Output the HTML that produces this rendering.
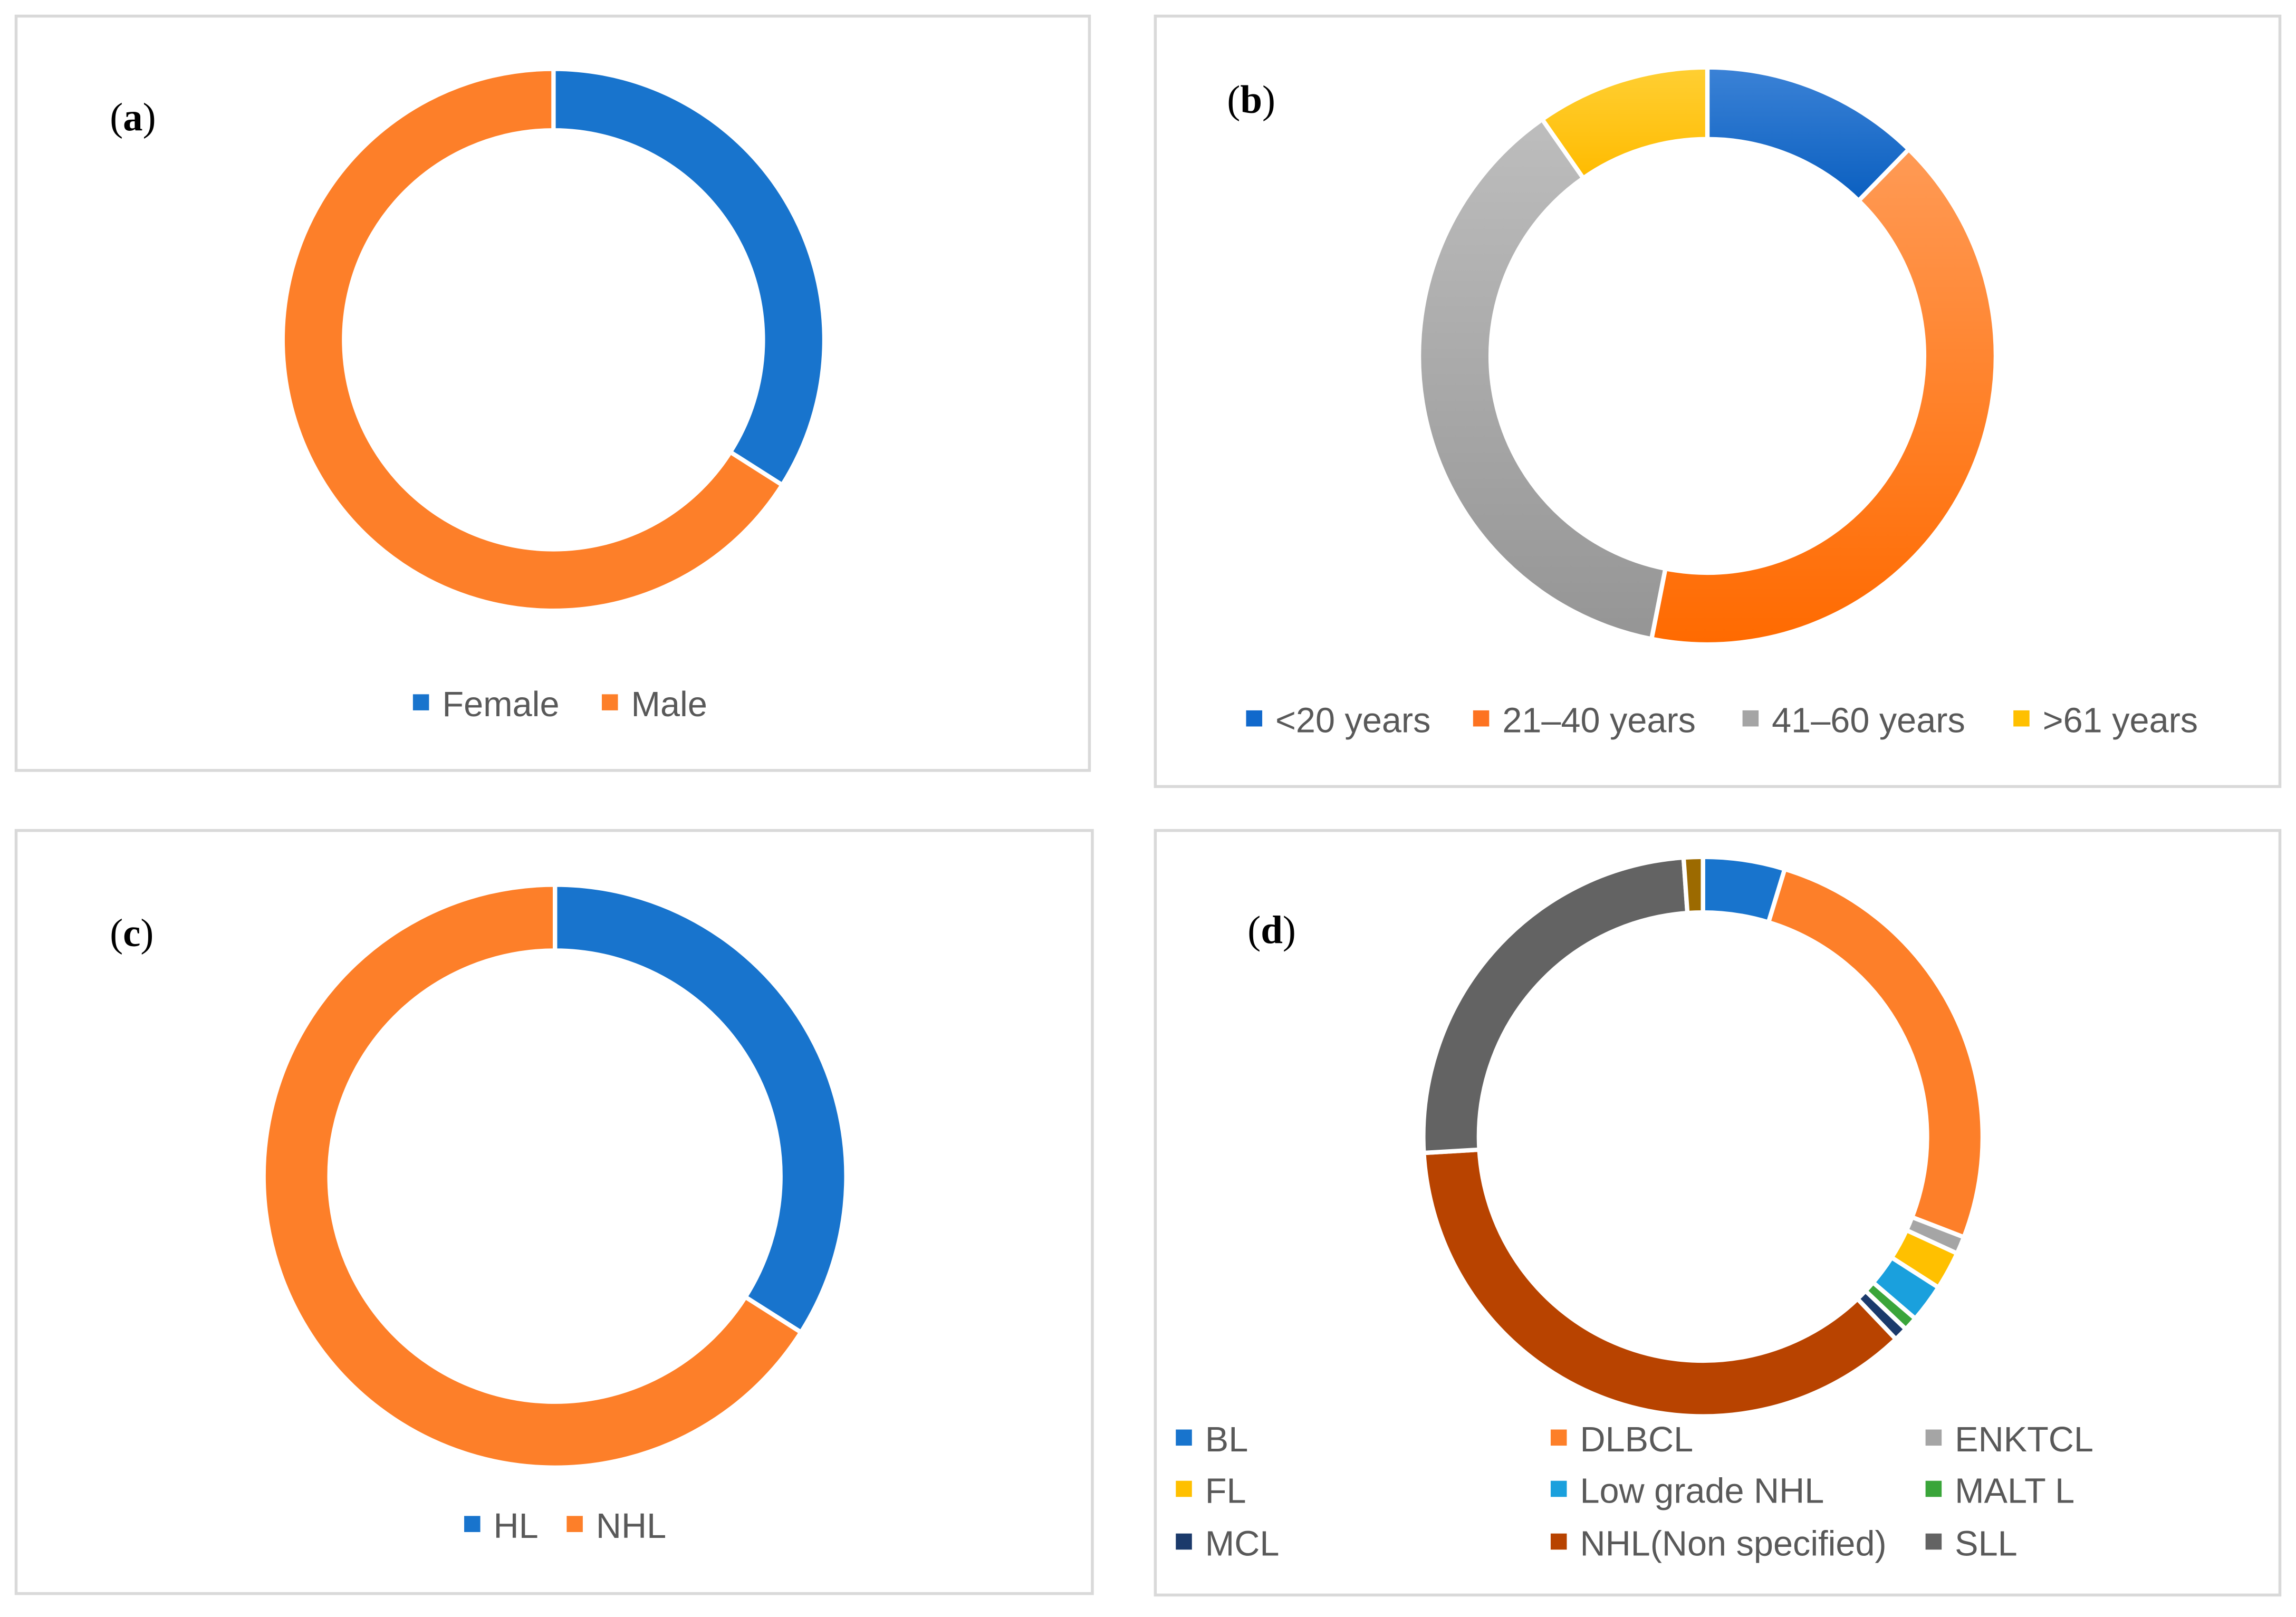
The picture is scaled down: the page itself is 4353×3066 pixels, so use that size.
<!DOCTYPE html>
<html><head><meta charset="utf-8"><style>
html,body{margin:0;padding:0;background:#fff;}
svg{display:block;}
text{font-family:"Liberation Sans",sans-serif;}
.lab{font-family:"Liberation Serif",serif;font-size:27px;fill:#000;}
.leg{font-size:24px;fill:#595959;}
</style></head><body>
<svg id="chart" width="4353" height="3066" viewBox="0 0 1568 1104" preserveAspectRatio="none" xmlns="http://www.w3.org/2000/svg">
<defs>
<linearGradient id="gB" x1="0" y1="0" x2="0" y2="1"><stop offset="0" stop-color="#3b82d6"/><stop offset="1" stop-color="#0a5fc0"/></linearGradient>
<linearGradient id="gO" x1="0" y1="0" x2="0" y2="1"><stop offset="0" stop-color="#ff9a55"/><stop offset="1" stop-color="#ff6a00"/></linearGradient>
<linearGradient id="gG" x1="0" y1="0" x2="0" y2="1"><stop offset="0" stop-color="#bdbdbd"/><stop offset="1" stop-color="#959595"/></linearGradient>
<linearGradient id="gY" x1="0" y1="0" x2="0" y2="1"><stop offset="0" stop-color="#ffcf33"/><stop offset="1" stop-color="#ffbb00"/></linearGradient>
</defs>
<rect x="11" y="11" width="733" height="515" fill="#fff" stroke="#d9d9d9" stroke-width="2"/>
<rect x="789" y="11" width="768" height="526" fill="#fff" stroke="#d9d9d9" stroke-width="2"/>
<rect x="11" y="567" width="735" height="521" fill="#fff" stroke="#d9d9d9" stroke-width="2"/>
<rect x="789" y="567" width="768" height="522" fill="#fff" stroke="#d9d9d9" stroke-width="2"/>
<text class="lab" x="75" y="89">(<tspan font-weight="bold">a</tspan>)</text>
<text class="lab" x="838" y="77">(<tspan font-weight="bold">b</tspan>)</text>
<text class="lab" x="75" y="646">(<tspan font-weight="bold">c</tspan>)</text>
<text class="lab" x="852" y="644">(<tspan font-weight="bold">d</tspan>)</text>
<g id="donuts"></g>
<g id="legends"></g>
</svg>
<script>
const catsA=["Female","Male"];
const valsA=[34,66];
const catsB=["<20 years","21–40 years","41–60 years",">61 years"];
const valsB=[12.3,40.8,37.2,9.7];
const catsC=["HL","NHL"];
const valsC=[34,66];
const catsD=["BL","DLBCL","ENKTCL","FL","Low grade NHL","MALT L","MCL","NHL(Non specified)","SLL","Other"];
const valsD=[4.7,26,1,2.2,2.2,0.8,0.8,36,24.7,1.1];

const NS="http://www.w3.org/2000/svg";
const dg=document.getElementById('donuts');
const lg=document.getElementById('legends');
function pt(cx,cy,r,a){const t=a*Math.PI/180;return [cx+r*Math.sin(t),cy-r*Math.cos(t)];}
function donut(name,vals,cats,colors,cx,cy,ro,ri){
  const tot=vals.reduce((s,v)=>s+v,0);let acc=0;
  vals.forEach((v,i)=>{
    const a0=acc/tot*360,a1=(acc+v)/tot*360;acc+=v;
    const large=(a1-a0)>180?1:0;
    const p0=pt(cx,cy,ro,a0),p1=pt(cx,cy,ro,a1),q1=pt(cx,cy,ri,a1),q0=pt(cx,cy,ri,a0);
    const p=document.createElementNS(NS,'path');
    p.setAttribute('d',`M${p0}A${ro},${ro} 0 ${large} 1 ${p1}L${q1}A${ri},${ri} 0 ${large} 0 ${q0}Z`);
    p.setAttribute('fill',colors[i]);p.setAttribute('stroke','#fff');p.setAttribute('stroke-width','3');
    
    
    dg.appendChild(p);
  });
}
function legend(name,cats,colors,xs,ys){
  cats.forEach((c,i)=>{
    const r=document.createElementNS(NS,'rect');
    r.setAttribute('x',xs[i]);r.setAttribute('y',ys[i]-15);r.setAttribute('width',11);r.setAttribute('height',11);r.setAttribute('fill',colors[i]);
    
    
    lg.appendChild(r);
    const t=document.createElementNS(NS,'text');
    t.setAttribute('x',xs[i]+20);t.setAttribute('y',ys[i]);t.setAttribute('class','leg');t.textContent=c;
    
    
    lg.appendChild(t);
  });
}
const BLUE="#1874cd",OR="#fd7f29";
donut('panel-a',valsA,catsA,[BLUE,OR],378,232,185,143);
donut('panel-b',valsB,catsB,["url(#gB)","url(#gO)","url(#gG)","url(#gY)"],1166,243,197,148);
donut('panel-c',valsC,catsC,[BLUE,OR],379,803,199,154);
const colD=["#1874cd","#fd7f29","#a5a5a5","#ffc000","#1aa0dd","#3aa53a","#1b3a6b","#b84300","#636363","#9c6a00"];
donut('panel-d',valsD,catsD,colD,1163,776,191,153);
legend('panel-a',catsA,[BLUE,OR],[282,411],[489,489]);
legend('panel-b',catsB,["#1169cc","#fd7321","#a5a5a5","#ffc000"],[851,1006,1190,1375],[500,500,500,500]);
legend('panel-c',catsC,[BLUE,OR],[317,387],[1050,1050]);
legend('panel-d',catsD.slice(0,9),colD.slice(0,9),[803,1059,1315,803,1059,1315,803,1059,1315],[991,991,991,1026,1026,1026,1062,1062,1062]);
</script>
</body></html>
